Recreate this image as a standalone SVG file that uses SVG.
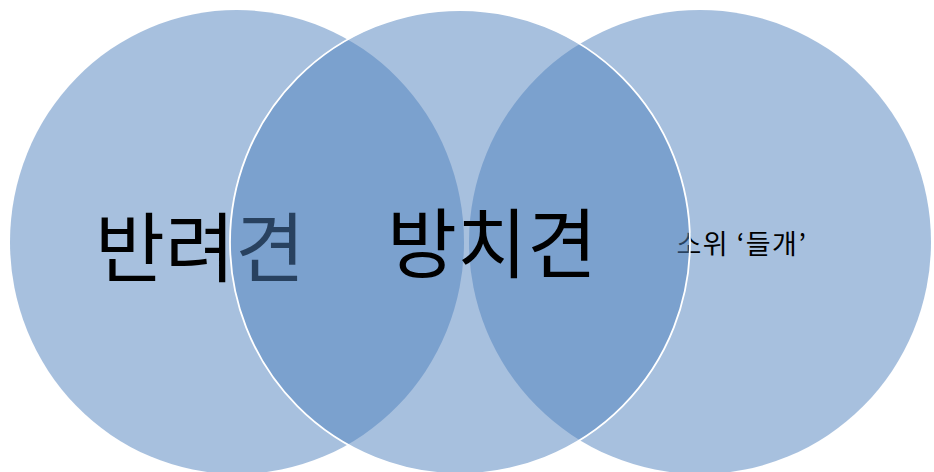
<svg xmlns="http://www.w3.org/2000/svg" width="934" height="472" viewBox="0 0 934 472">
<style>
.c{fill:#4F81BD;fill-opacity:0.5}
.m{stroke:#FFFFFF;stroke-width:1.8}
.t{font-family:"Noto Sans CJK KR","Noto Sans",sans-serif;fill:#000000;text-anchor:middle}
.big{font-size:76px}
.small{font-size:27px;letter-spacing:1.5px}
</style>
<rect width="934" height="472" fill="#FFFFFF"/>
<g id="node-left">
<ellipse class="c" cx="237" cy="242" rx="227" ry="232"/>
<text class="t big" x="200" y="276">반려견</text>
</g>
<g id="node-right">
<ellipse class="c" cx="700" cy="242" rx="231" ry="232"/>
<text class="t small" x="742" y="254">소위 ‘들개’</text>
</g>
<g id="node-middle">
<ellipse class="c m" cx="460" cy="242" rx="230" ry="232"/>
<text class="t big" x="492" y="272">방치견</text>
</g>
<g id="connectors"></g>
</svg>
